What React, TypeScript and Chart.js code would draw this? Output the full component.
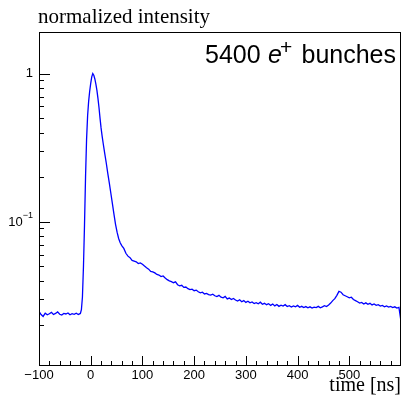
import React, { useEffect, useRef } from "react";
import { Chart, registerables } from "chart.js";

Chart.register(...registerables);

// ---- data: time [ns] and normalized intensity ----
const baselineTimes = [
  -100, -96, -92, -88, -84, -80, -76, -72, -68, -64,
  -60, -56, -52, -48, -44, -40, -36, -32, -28, -24, -20,
];
const baselineValues = [
  0.0248, 0.0236, 0.0229, 0.0241, 0.0235, 0.0239, 0.0244, 0.0236, 0.024, 0.0246,
  0.0237, 0.0234, 0.024, 0.0238, 0.0242, 0.0235, 0.0239, 0.0237, 0.0241, 0.0236, 0.024,
];

const peakTimes = [
  -18, -16, -14, -12, -10, -8, -6, -4, -2, 0,
  2, 4, 6, 8, 10, 12, 14, 16, 18, 20,
  22, 24, 27, 30, 33, 36, 39, 42, 45, 48,
  51, 54, 57, 60,
];
const peakValues = [
  0.0255, 0.031, 0.05, 0.095, 0.2, 0.36, 0.52, 0.65, 0.76, 0.86,
  0.95, 1.0, 0.975, 0.92, 0.85, 0.77, 0.68, 0.59, 0.5, 0.43,
  0.38, 0.34, 0.29, 0.25, 0.212, 0.182, 0.155, 0.132, 0.112, 0.096,
  0.085, 0.077, 0.072, 0.069,
];

const tailTimes = [
  64, 68, 72, 76, 80, 84, 88, 92, 96, 100,
  104, 108, 112, 116, 120, 124, 128, 132, 136, 140,
  144, 148, 152, 156, 160, 164, 168, 172, 176, 180,
  184, 188, 192, 196, 200, 204, 208, 212, 216, 220,
  224, 228, 232, 236, 240, 244, 248, 252, 256, 260,
  264, 268, 272, 276, 280, 284, 288, 292, 296, 300,
  304, 308, 312, 316, 320, 324, 328, 332, 336, 340,
  344, 348, 352, 356, 360, 364, 368, 372, 376, 380,
  384, 388, 392, 396, 400, 404, 408, 412, 416, 420,
  424, 428, 432, 436, 440, 444, 448, 452, 456, 460,
  464, 468, 472, 476, 480, 484, 488, 492, 496, 500,
  504, 508, 512, 516, 520, 524, 528, 532, 536, 540,
  544, 548, 552, 556, 560, 564, 568, 572, 576, 580,
  584, 588, 592, 596, 600,
];
const tailValues = [
  0.066, 0.0612, 0.0585, 0.0571, 0.0548, 0.0542, 0.0536, 0.0521, 0.0527, 0.0516,
  0.0502, 0.0489, 0.0478, 0.0462, 0.0458, 0.0451, 0.044, 0.0436, 0.0426, 0.043,
  0.0417, 0.0406, 0.0398, 0.0394, 0.0387, 0.0392, 0.0375, 0.0369, 0.0372, 0.036,
  0.0362, 0.0353, 0.0348, 0.035, 0.0342, 0.0345, 0.0336, 0.0331, 0.0334, 0.0325,
  0.0328, 0.0322, 0.0319, 0.0324, 0.0316, 0.0312, 0.0318, 0.0309, 0.0306, 0.0313,
  0.0301, 0.0305, 0.0298, 0.0303, 0.0296, 0.0291, 0.0297, 0.0288, 0.0293, 0.0285,
  0.029, 0.0283, 0.0287, 0.028, 0.0284, 0.0279, 0.0286, 0.0277, 0.0281, 0.0275,
  0.0279, 0.0272, 0.0278, 0.027, 0.0276, 0.0268, 0.0273, 0.0269, 0.0275, 0.0267,
  0.0271, 0.0265, 0.027, 0.0266, 0.0272, 0.0264, 0.0268, 0.0263, 0.0267, 0.0262,
  0.0266, 0.0261, 0.0265, 0.0263, 0.0268, 0.0262, 0.0266, 0.0271, 0.0267, 0.0274,
  0.0282, 0.0293, 0.0302, 0.0318, 0.0338, 0.0334, 0.0321, 0.0316, 0.0311, 0.0306,
  0.0309, 0.0298, 0.0293, 0.0288, 0.0282, 0.0285, 0.0278, 0.0283, 0.0277, 0.0281,
  0.0274, 0.0278, 0.0272, 0.0275, 0.0269, 0.0272, 0.0266, 0.027, 0.0265, 0.0268,
  0.0263, 0.0266, 0.0261, 0.0264, 0.0212,
];

const xMajorTicks = [-100, 0, 100, 200, 300, 400, 500];
const xTickLabels = ["\u2212100", "0", "100", "200", "300", "400", "500"];
const xMinorStep = 20;
const yMajorTicks = [1, 0.1];
const yTickBase = ["1", "10"];
const yTickExp = ["", "\u22121"];

const X_MIN = -100;
const X_MAX = 600;
const Y_MIN = 0.0106;
const Y_MAX = 1.91;

const SANS = '"Liberation Sans", Arial, sans-serif';
const SERIF = '"Liberation Serif", "Times New Roman", serif';

const overlay = {
  id: "rootOverlay",
  afterDraw(chart: any) {
    const { ctx, chartArea: a } = chart;
    const xs = chart.scales.x;
    const ys = chart.scales.y;
    ctx.save();
    ctx.strokeStyle = "#000";
    ctx.lineWidth = 1;
    ctx.strokeRect(a.left + 0.5, a.top + 0.5, a.right - a.left - 1, a.bottom - a.top - 1);

    const line = (x1: number, y1: number, x2: number, y2: number) => {
      ctx.beginPath();
      ctx.moveTo(x1, y1);
      ctx.lineTo(x2, y2);
      ctx.stroke();
    };

    // x ticks (inward from bottom)
    for (let v = X_MIN; v < X_MAX; v += xMinorStep) {
      const px = Math.round(xs.getPixelForValue(v)) + 0.5;
      const major = xMajorTicks.includes(v);
      line(px, a.bottom, px, a.bottom - (major ? 10 : 5));
    }
    // y ticks
    const decades = [0.01, 0.1, 1];
    decades.forEach((d) => {
      for (let m = 1; m <= 9; m++) {
        const v = d * m;
        if (v < Y_MIN || v > Y_MAX) continue;
        const py = Math.round(ys.getPixelForValue(v)) + 0.5;
        line(a.left, py, a.left + (m === 1 ? 11 : 5), py);
      }
    });

    ctx.fillStyle = "#000";
    // x tick labels
    ctx.font = `13px ${SANS}`;
    ctx.textAlign = "center";
    ctx.textBaseline = "middle";
    xMajorTicks.forEach((v, i) => {
      ctx.fillText(xTickLabels[i], xs.getPixelForValue(v), a.bottom + 9);
    });
    // y tick labels
    yMajorTicks.forEach((v, i) => {
      const py = ys.getPixelForValue(v);
      const right = a.left - 6;
      ctx.textBaseline = "middle";
      if (yTickExp[i]) {
        ctx.font = `9px ${SANS}`;
        const ew = ctx.measureText(yTickExp[i]).width;
        ctx.textAlign = "right";
        ctx.fillText(yTickExp[i], right, py - 6);
        ctx.font = `13px ${SANS}`;
        ctx.fillText(yTickBase[i], right - ew, py + 1);
      } else {
        ctx.font = `13px ${SANS}`;
        ctx.textAlign = "right";
        ctx.fillText(yTickBase[i], right, py);
      }
    });

    // axis titles
    ctx.font = `21px ${SERIF}`;
    ctx.textBaseline = "alphabetic";
    ctx.textAlign = "left";
    ctx.fillText("normalized intensity", 38, 23);
    ctx.font = `20px ${SERIF}`;
    ctx.textAlign = "right";
    ctx.fillText("time [ns]", 401, 391);

    // label
    const baseY = 63;
    ctx.textAlign = "left";
    ctx.font = `25px ${SANS}`;
    ctx.fillText("5400", 205, baseY);
    ctx.font = `italic 25px ${SANS}`;
    ctx.fillText("e", 268, baseY);
    ctx.font = `21px ${SANS}`;
    ctx.fillText("+", 280, baseY - 9);
    ctx.font = `25px ${SANS}`;
    ctx.textAlign = "right";
    ctx.fillText("bunches", 396, baseY);

    ctx.restore();
  },
};

export default function App() {
  const canvasRef = useRef<HTMLCanvasElement>(null);

  useEffect(() => {
    document.body.style.margin = "0";
    const times = [...baselineTimes, ...peakTimes, ...tailTimes];
    const values = [...baselineValues, ...peakValues, ...tailValues];
    const data = times.map((t, i) => ({ x: t, y: values[i] }));
    const chart = new Chart(canvasRef.current as HTMLCanvasElement, {
      type: "line",
      data: {
        datasets: [
          {
            data,
            borderColor: "#0000ff",
            borderWidth: 1.3,
            pointRadius: 0,
            tension: 0,
            fill: false,
          },
        ],
      },
      options: {
        animation: false,
        responsive: false,
        devicePixelRatio: 1,
        layout: { padding: { top: 32, right: 3, left: 0, bottom: 0 } },
        plugins: { legend: { display: false }, tooltip: { enabled: false } },
        scales: {
          x: {
            type: "linear",
            min: X_MIN,
            max: X_MAX,
            grid: { display: false },
            border: { display: false },
            ticks: { display: false },
            afterFit: (s: any) => {
              s.height = 32;
            },
          },
          y: {
            type: "logarithmic",
            min: Y_MIN,
            max: Y_MAX,
            grid: { display: false },
            border: { display: false },
            ticks: { display: false },
            afterFit: (s: any) => {
              s.width = 39;
            },
          },
        },
      },
      plugins: [overlay],
    });
    return () => chart.destroy();
  }, []);

  return (
    <div style={{ position: "absolute", left: 0, top: 0, width: 404, height: 398, background: "#fff" }}>
      <canvas ref={canvasRef} width={404} height={398} style={{ width: 404, height: 398 }} />
    </div>
  );
}
